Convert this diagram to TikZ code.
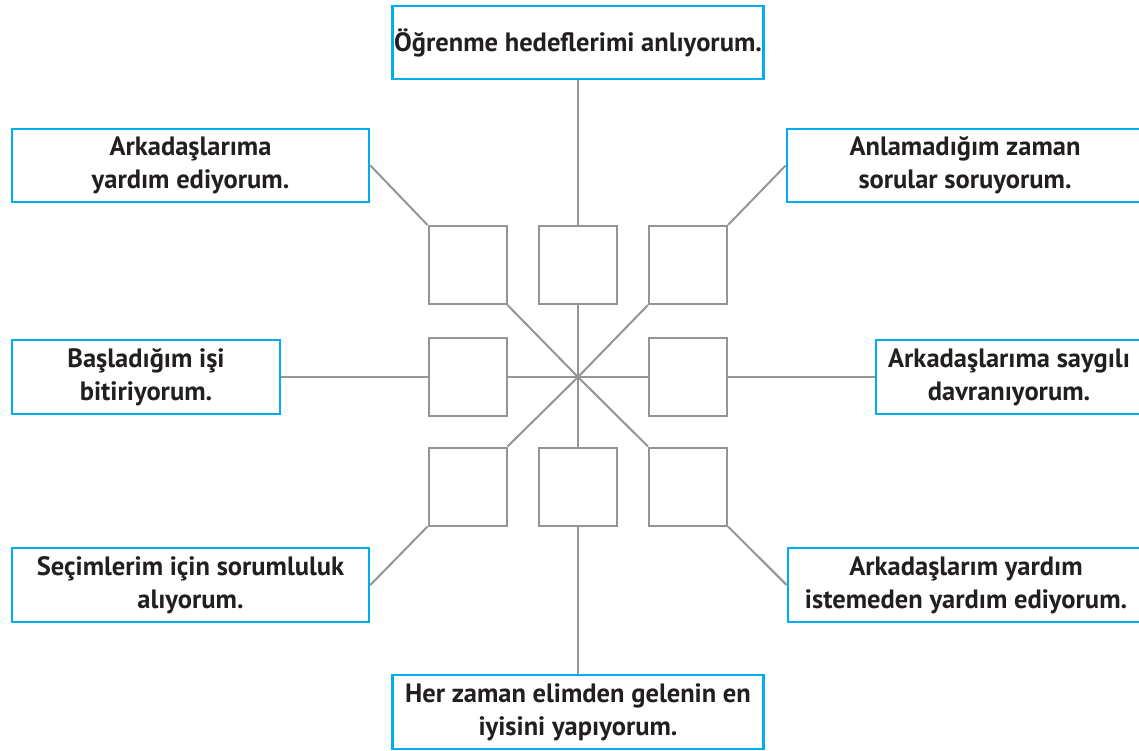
\documentclass[tikz,border=0pt]{standalone}
\usepackage{fontspec}
\setmainfont{PT Sans}
\definecolor{boxblue}{HTML}{00AEEF}
\definecolor{linegray}{HTML}{939598}
\definecolor{txt}{HTML}{231F20}
\begin{document}
\begin{tikzpicture}[x=1pt,y=-1pt,
  tbox/.style={draw=boxblue,line width=2.7pt,fill=white,text=txt,align=center,
    inner sep=0pt,minimum height=73pt,
    font=\fontsize{26.5}{33}\selectfont\bfseries},
  sq/.style={draw=linegray,line width=2pt,minimum width=78pt,minimum height=78pt,inner sep=0pt},
  con/.style={draw=linegray,line width=2pt}]
\clip (0,0) rectangle (1139,751);
\fill[white] (0,0) rectangle (1139,751);
\coordinate (c) at (578,377);
% squares
\node[sq] (s1) at (467.5,265) {};
\node[sq] (s2) at (578,265) {};
\node[sq] (s3) at (688,265) {};
\node[sq] (s4) at (467.5,377) {};
\node[sq] (s6) at (688,377) {};
\node[sq] (s7) at (467.5,486.5) {};
\node[sq] (s8) at (578,486.5) {};
\node[sq] (s9) at (688,486.5) {};
% text boxes
\node[tbox,minimum width=371pt] (bt) at (578,42.5) {Öğrenme hedeflerimi anlıyorum.};
\node[tbox,minimum width=357pt] (btl) at (190.5,165.5) {Arkadaşlarıma\\yardım ediyorum.};
\node[tbox,minimum width=356pt] (btr) at (965,165.5) {Anlamadığım zaman\\sorular soruyorum.};
\node[tbox,minimum width=268pt,minimum height=74pt] (bml) at (146,377) {Başladığım işi\\bitiriyorum.};
\node[tbox,minimum width=266pt,minimum height=74pt] (bmr) at (1009,377) {Arkadaşlarıma saygılı\\davranıyorum.};
\node[tbox,minimum width=357pt,minimum height=74pt] (bbl) at (190.5,585) {Seçimlerim için sorumluluk\\alıyorum.};
\node[tbox,minimum width=356pt,minimum height=74pt] (bbr) at (966,585) {Arkadaşlarım yardım\\istemeden yardım ediyorum.};
\node[tbox,minimum width=371pt,minimum height=74pt] (bb) at (578,712) {Her zaman elimden gelenin en\\iyisini yapıyorum.};
% connectors outer
\draw[con] (bt.south) -- (s2.north);
\draw[con] (btl.east) -- (s1.north west);
\draw[con] (btr.west) -- (s3.north east);
\draw[con] (bml.east) -- (s4.west);
\draw[con] (bmr.west) -- (s6.east);
\draw[con] (bbl.east) -- (s7.south west);
\draw[con] (bbr.west) -- (s9.south east);
\draw[con] (bb.north) -- (s8.south);
% connectors inner
\draw[con] (s1.south east) -- (c);
\draw[con] (s2.south) -- (c);
\draw[con] (s3.south west) -- (c);
\draw[con] (s4.east) -- (c);
\draw[con] (s6.west) -- (c);
\draw[con] (s7.north east) -- (c);
\draw[con] (s8.north) -- (c);
\draw[con] (s9.north west) -- (c);
\end{tikzpicture}
\end{document}
